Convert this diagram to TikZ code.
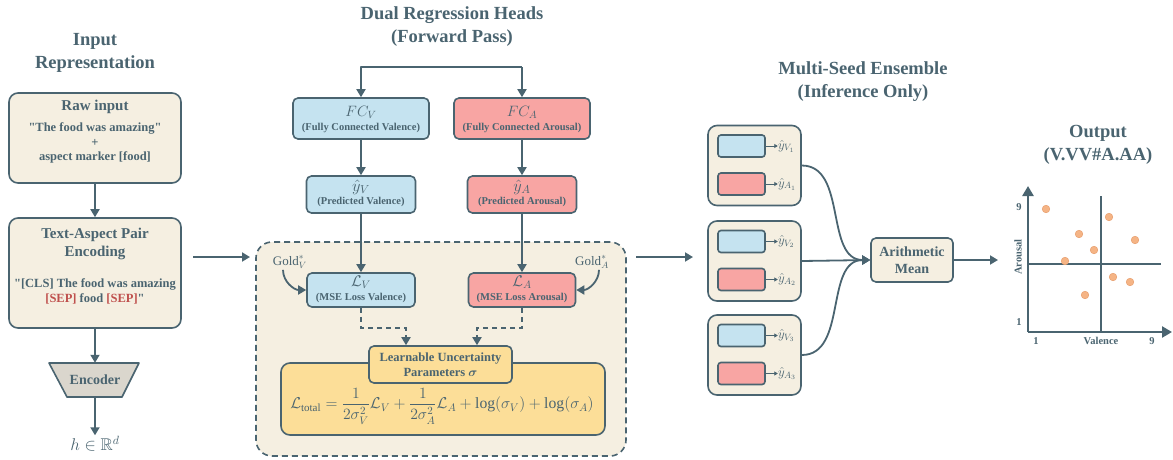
\RequirePackage{fix-cm}
\documentclass[tikz,border=0pt]{standalone}
\usepackage{amsmath,amssymb}
\usepackage{fontspec}
\setmainfont{Liberation Serif}[Ligatures=TeXOff]
\usetikzlibrary{arrows.meta,calc}
\definecolor{ink}{HTML}{4A6470}
\definecolor{beige}{HTML}{F5EFE1}
\definecolor{bluef}{HTML}{C5E3F0}
\definecolor{redf}{HTML}{F8A5A3}
\definecolor{yellowf}{HTML}{FCDE98}
\definecolor{grayf}{HTML}{DAD6CD}
\definecolor{sepred}{HTML}{BF504D}
\definecolor{dotf}{HTML}{F5B485}
\definecolor{dote}{HTML}{E8A070}
\begin{document}
\begin{tikzpicture}[x=1pt,y=-1pt,
  every node/.style={text=ink},
  arr/.style={draw=ink, line width=1.8pt, -{Triangle[length=8pt,width=9pt]}},
  sarr/.style={draw=ink, line width=0.9pt, -{Triangle[length=3.5pt,width=4pt]}},
  ln/.style={draw=ink, line width=1.8pt},
  box/.style={draw=ink, line width=1.6pt, rounded corners=5pt, inner sep=0pt},
  ttl/.style={font=\fontsize{18.5}{23}\selectfont\bfseries, align=center},
  hd/.style={font=\fontsize{15}{18}\selectfont\bfseries, align=center, inner sep=0pt},
  lbl/.style={font=\fontsize{12.5}{15}\selectfont\bfseries, align=center, inner sep=0pt},
  sub/.style={font=\fontsize{10.5}{12}\selectfont\bfseries, inner sep=0pt},
  mth/.style={font=\fontsize{15}{17}\selectfont, inner sep=0pt},
  mthb/.style={font=\fontsize{16.5}{18}\selectfont, inner sep=0pt},
  slbl/.style={anchor=west, font=\fontsize{13}{15}\selectfont, inner sep=0pt},
  plbl/.style={font=\fontsize{10.5}{12}\selectfont\bfseries, inner sep=0pt},
  dot/.style={fill=dotf, draw=dote, line width=0.5pt}
]
\useasboundingbox (0,0) rectangle (1173,459);

% ---------------- Input representation ----------------
\node[ttl] (t1) at (95,53) {Input\\Representation};
\node[box, fill=beige, rounded corners=9pt, minimum width=172pt, minimum height=90pt] (raw) at (95,138) {};
\node[hd] (rawh) at (95,107) {Raw input};
\node[lbl] (raw1) at (95,128) {"The food was amazing"};
\node[lbl] (raw2) at (95,143) {+};
\node[lbl] (raw3) at (95,157) {aspect marker [food]};

\node[box, fill=beige, rounded corners=9pt, minimum width=172pt, minimum height=110pt] (tap) at (95,273) {};
\node[hd] (taph) at (95,244) {Text-Aspect Pair\\Encoding};
\node[lbl] (tap1) at (95,284) {"[CLS] The food was amazing};
\node[lbl] (tap2) at (95,299) {\textcolor{sepred}{[SEP]} food \textcolor{sepred}{[SEP]}"};

\draw[draw=ink, fill=grayf, line width=1.6pt, line join=round] (49,363) -- (139,363) -- (122,397) -- (67,397) -- cycle;
\node[font=\fontsize{14}{16}\selectfont\bfseries, minimum height=34pt, inner sep=0pt] (enc) at (95,380) {Encoder};
\node[font=\fontsize{17}{19}\selectfont, inner sep=1pt] (h) at (95,444) {$h\in\mathbb{R}^d$};

\draw[arr] (raw.south) -- (tap.north);
\draw[arr] (tap.south) -- (enc.north);
\draw[arr] (enc.south) -- (h.north);

\coordinate (a1s) at (193,257);
\coordinate (a1e) at (250,257);
\draw[arr] (a1s) -- (a1e);

% ---------------- Dual regression heads ----------------
\node[ttl] (t2) at (452,27) {Dual Regression Heads\\(Forward Pass)};

\node[draw=ink, line width=1.6pt, dash pattern=on 6pt off 4pt, rounded corners=16pt, fill=beige, minimum width=370pt, minimum height=214pt, inner sep=0pt] (cont) at (441,349) {};

\node[box, fill=bluef, minimum width=136pt, minimum height=41pt] (fcv) at (361,118.5) {};
\node[mth] (fcvm) at (361,112) {$FC_V$};
\node[sub] (fcvs) at (361,128) {(Fully Connected Valence)};
\node[box, fill=redf, minimum width=136pt, minimum height=41pt] (fca) at (522,118.5) {};
\node[mth] (fcam) at (522,112) {$FC_A$};
\node[sub] (fcas) at (522,128) {(Fully Connected Arousal)};

\node[box, fill=bluef, minimum width=109pt, minimum height=37pt] (yv) at (361,194.5) {};
\node[mthb] (yvm) at (361,187) {$\hat{y}_V$};
\node[sub] (yvs) at (361,202) {(Predicted Valence)};
\node[box, fill=redf, minimum width=109pt, minimum height=37pt] (ya) at (522,194.5) {};
\node[mthb] (yam) at (522,187) {$\hat{y}_A$};
\node[sub] (yas) at (522,202) {(Predicted Arousal)};

\node[box, fill=bluef, minimum width=108pt, minimum height=34pt] (lv) at (361,290) {};
\node[mth, font=\fontsize{15.5}{17}\selectfont] (lvm) at (361,282) {$\mathcal{L}_V$};
\node[sub] (lvs) at (361,298) {(MSE Loss Valence)};
\node[box, fill=redf, minimum width=107pt, minimum height=34pt] (la) at (522,290) {};
\node[mth, font=\fontsize{15.5}{17}\selectfont] (lam) at (522,282) {$\mathcal{L}_A$};
\node[sub] (las) at (522,298) {(MSE Loss Arousal)};

\coordinate (bl) at (361,67);
\coordinate (br) at (522,67);
\draw[arr, line join=round] (br) -- (bl) -- (fcv.north);
\draw[arr] (br) -- (fca.north);
\draw[arr] (fcv.south) -- (yv.north);
\draw[arr] (fca.south) -- (ya.north);
\draw[arr] (yv.south) -- (lv.north);
\draw[arr] (ya.south) -- (la.north);

\node[font=\fontsize{13}{15}\selectfont, inner sep=1pt] (gv) at (290,262) {$\mathrm{Gold}^*_V$};
\node[font=\fontsize{13}{15}\selectfont, inner sep=1pt] (ga) at (592,262) {$\mathrm{Gold}^*_A$};
\draw[arr] ([xshift=-7pt]gv.south) to[out=-90,in=180] (lv.west);
\draw[arr] ([xshift=7pt]ga.south) to[out=-90,in=0] (la.east);

\node[box, fill=yellowf, rounded corners=9pt, minimum width=324pt, minimum height=72pt] (fb) at (443,399) {};
\node[font=\fontsize{15.7}{18}\selectfont, inner sep=0pt] (form) at (442,406)
  {$\mathcal{L}_{\mathrm{total}} = \dfrac{1}{2\sigma_V^2}\mathcal{L}_V + \dfrac{1}{2\sigma_A^2}\mathcal{L}_A + \log(\sigma_V) + \log(\sigma_A)$};
\node[box, fill=yellowf, minimum width=143pt, minimum height=37pt] (lup) at (440.5,364.5) {};
\node[lbl, font=\fontsize{12.5}{15}\selectfont\bfseries] (lupt) at (440.5,364.5) {Learnable Uncertainty\\Parameters $\boldsymbol{\sigma}$};

\draw[arr, dash pattern=on 5pt off 4pt] (lv.south) -- ++(0,20) -| ([xshift=-34.5pt]lup.north);
\draw[arr, dash pattern=on 5pt off 4pt] (la.south) -- ++(0,20) -| ([xshift=36.5pt]lup.north);

\coordinate (a2s) at (636,257);
\coordinate (a2e) at (693,257);
\draw[arr] (a2s) -- (a2e);

% ---------------- Ensemble ----------------
\node[ttl] (t3) at (863,81.5) {Multi-Seed Ensemble\\(Inference Only)};
\foreach \i/\y in {1/165.5, 2/261, 3/355} {
  \node[box, fill=beige, rounded corners=9pt, minimum width=93pt, minimum height=80pt] (s\i) at (754.5,\y) {};
  \node[box, fill=bluef, rounded corners=3pt, minimum width=47pt, minimum height=22pt] (sv\i) at ($(s\i.center)+(-13,-19.5)$) {};
  \node[box, fill=redf, rounded corners=3pt, minimum width=47pt, minimum height=22pt] (sa\i) at ($(s\i.center)+(-13,18.5)$) {};
  \node[slbl] (lyv\i) at ($(sv\i.east)+(12,0)$) {$\hat{y}_{V_{\i}}$};
  \node[slbl] (lya\i) at ($(sa\i.east)+(12,0)$) {$\hat{y}_{A_{\i}}$};
  \draw[sarr] (sv\i.east) -- (lyv\i.west);
  \draw[sarr] (sa\i.east) -- (lya\i.west);
}
\node[box, fill=beige, minimum width=82pt, minimum height=44pt, font=\fontsize{14}{17}\selectfont\bfseries, align=center] (mean) at (912,260) {Arithmetic\\Mean};
\draw[arr] (s1.east) to[out=0,in=180] (mean.west);
\draw[arr] (s2.east) -- (mean.west);
\draw[arr] (s3.east) to[out=0,in=180] (mean.west);

\coordinate (a3e) at (998,260);
\draw[arr] (mean.east) -- (a3e);

% ---------------- Output ----------------
\node[ttl] (t4) at (1098,145) {Output\\(V.VV\#A.AA)};
\coordinate (o) at (1028,332);
\coordinate (ytip) at (1028,186);
\coordinate (xtip) at (1172,332);
\draw[draw=ink, line width=1.1pt] (1101,196) -- (1101,332);
\draw[draw=ink, line width=1.1pt] (1028,264) -- (1161,264);
\draw[draw=ink, line width=2.4pt, -{Triangle[length=10pt,width=11pt]}] (o) -- (ytip);
\draw[draw=ink, line width=2.4pt, -{Triangle[length=10pt,width=11pt]}] (o) -- (xtip);
\node[plbl] (y9) at (1019,207) {9};
\node[plbl] (y1) at (1019,322) {1};
\node[plbl] (x1) at (1036,341) {1};
\node[plbl] (x9) at (1152,341) {9};
\node[plbl] (xl) at (1101,341) {Valence};
\node[plbl, rotate=90] (yl) at (1018,257) {Arousal};
\foreach \px/\py in {1046/209, 1109/217, 1079/234, 1135/240, 1094/250, 1065/261, 1113/277, 1130/282, 1085/295}
  \draw[dot] (\px,\py) circle (3.8pt);
\end{tikzpicture}
\end{document}
